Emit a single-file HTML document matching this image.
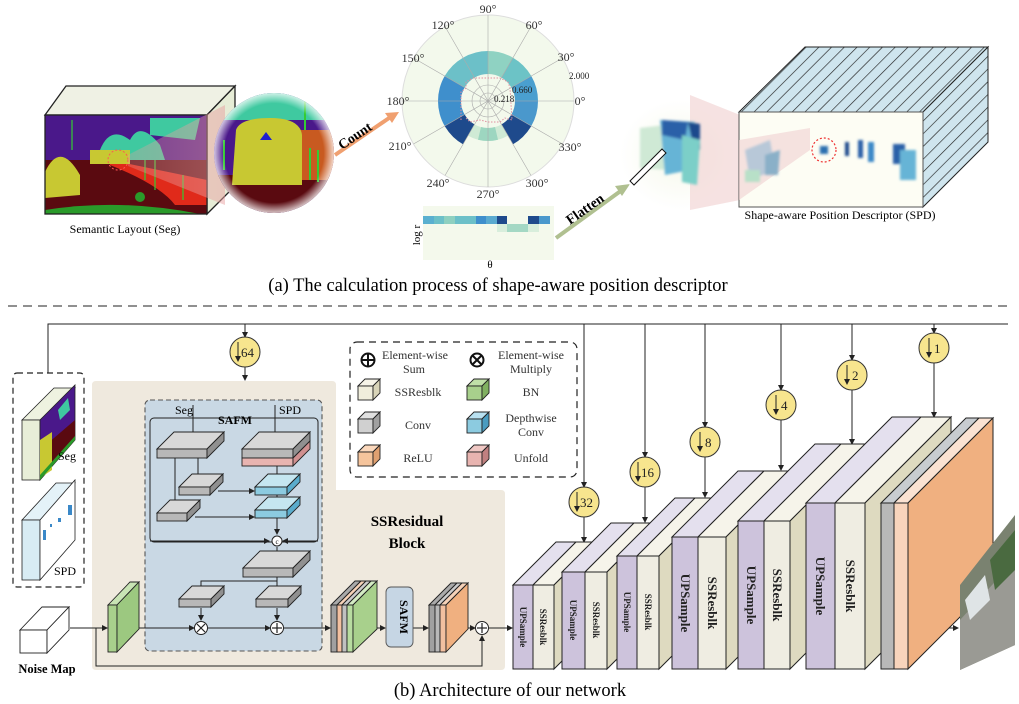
<!DOCTYPE html>
<html><head><meta charset="utf-8"><style>
html,body{margin:0;padding:0;background:#fff;}
svg{display:block;font-family:"Liberation Serif",serif;}
</style></head><body>
<svg width="1019" height="704" viewBox="0 0 1019 704" xmlns="http://www.w3.org/2000/svg">
<defs>
<marker id="ar" markerWidth="6" markerHeight="6" refX="5" refY="3" orient="auto"><path d="M0,0 L6,3 L0,6 z" fill="#222"/></marker>
<clipPath id="segc"><rect x="45" y="115" width="162" height="99"/></clipPath>
<clipPath id="magc"><circle cx="274" cy="153" r="60"/></clipPath>
<radialGradient id="magedge" cx="0.5" cy="0.5" r="0.5"><stop offset="0.8" stop-color="#fff" stop-opacity="0"/><stop offset="1" stop-color="#fff" stop-opacity="0.9"/></radialGradient>
<radialGradient id="blobbg" cx="0.5" cy="0.5" r="0.5"><stop offset="0" stop-color="#f6f8ea"/><stop offset="1" stop-color="#fff"/></radialGradient>
<linearGradient id="cone" x1="0" x2="1"><stop offset="0" stop-color="#e8a0a0" stop-opacity="0.3"/><stop offset="1" stop-color="#e8a0a0" stop-opacity="0.5"/></linearGradient>
<pattern id="hatch" width="9" height="9" patternUnits="userSpaceOnUse" patternTransform="rotate(45)"><rect width="9" height="9" fill="#cfe5ee"/><line x1="0" y1="0" x2="0" y2="9" stroke="#222" stroke-width="1.3"/></pattern>
<filter id="bl"><feGaussianBlur stdDeviation="1.2"/></filter>
</defs>

<!-- ===== (a) ===== -->
<!-- left cube -->
<polygon points="45,115 66,86 235,86 207,115" fill="#eff1e4" stroke="#222" stroke-width="1.3"/>
<polygon points="207,115 235,86 235,186 207,214" fill="#e6ecd6" stroke="#222" stroke-width="1.3"/>
<g clip-path="url(#segc)">
<rect x="45" y="115" width="162" height="99" fill="#4a188a"/>
<path d="M100,150 Q110,125 130,140 Q140,120 160,145 L165,160 L100,160z" fill="#3fc9a0"/>
<path d="M150,118 L200,118 L195,140 L150,135z" fill="#3fc9a0"/>
<rect x="45" y="160" width="162" height="54" fill="#5a0a10"/>
<path d="M110,160 L207,180 L207,205 L175,205 Q160,185 110,165z" fill="#e02a1a"/>
<path d="M45,172 Q60,140 80,175 L80,195 L45,198z" fill="#c8c832"/>
<rect x="90" y="150" width="40" height="14" fill="#c8c832"/>
<path d="M45,210 Q120,198 200,214 L45,214z" fill="#2a9a2a"/>
<circle cx="140" cy="197" r="5" fill="#2a9a2a"/>
<g stroke="#3c3" stroke-width="1.2"><line x1="72" y1="120" x2="72" y2="150"/><line x1="145" y1="160" x2="145" y2="180"/><line x1="155" y1="160" x2="155" y2="190"/><line x1="183" y1="175" x2="183" y2="200"/></g>
<circle cx="118" cy="160" r="10" fill="none" stroke="#f55" stroke-dasharray="2,2"/>
</g>
<rect x="45" y="115" width="162" height="99" fill="none" stroke="#222" stroke-width="1.3"/>
<polygon points="128,155 225,105 225,205 128,166" fill="url(#cone)"/>
<!-- magnifier -->
<g clip-path="url(#magc)">
<rect x="210" y="90" width="130" height="130" fill="#4a188a"/>
<rect x="210" y="90" width="130" height="30" fill="#3fc9a0"/>
<rect x="210" y="175" width="130" height="50" fill="#5a0a10"/>
<rect x="300" y="130" width="40" height="50" fill="#c85a20"/>
<path d="M236,130 Q240,118 270,118 Q300,118 302,135 L302,185 L232,185z" fill="#c8c832"/>
<polygon points="266,132 260,140 272,140" fill="#2020d0"/>
<g stroke="#3c3" stroke-width="2"><line x1="224" y1="140" x2="224" y2="170"/><line x1="310" y1="148" x2="310" y2="180"/><line x1="318" y1="150" x2="318" y2="182"/><line x1="305" y1="95" x2="305" y2="130"/></g>
<circle cx="274" cy="153" r="62" fill="url(#magedge)"/>
</g>
<text x="125" y="233" font-size="12" text-anchor="middle">Semantic Layout (Seg)</text>
<!-- Count arrow -->
<line x1="335" y1="155" x2="392" y2="116" stroke="#f0a070" stroke-width="4"/>
<polygon points="399,112 385,113 392,123" fill="#f0a070"/>
<text x="342" y="150" font-size="14" font-weight="bold" transform="rotate(-34 342 150)">Count</text>

<!-- polar chart -->
<circle cx="488" cy="101" r="86" fill="#f3f9ec" stroke="#ddd"/>
<path d="M538,101 A50,50 0 0 0 531.3,76 L511.4,87.5 A27,27 0 0 1 515,101Z" fill="#4a9fcf"/>
<path d="M531.3,76 A50,50 0 0 0 513,57.7 L501.5,77.6 A27,27 0 0 1 511.4,87.5Z" fill="#6cc3c6"/>
<path d="M513,57.7 A50,50 0 0 0 488,51 L488,74 A27,27 0 0 1 501.5,77.6Z" fill="#8fd2c2"/>
<path d="M488,51 A50,50 0 0 0 463,57.7 L474.5,77.6 A27,27 0 0 1 488,74Z" fill="#6cc0c8"/>
<path d="M463,57.7 A50,50 0 0 0 444.7,76 L464.6,87.5 A27,27 0 0 1 474.5,77.6Z" fill="#6cc0c8"/>
<path d="M444.7,76 A50,50 0 0 0 444.7,126 L464.6,114.5 A27,27 0 0 1 464.6,87.5Z" fill="#3f8fcc"/>
<path d="M444.7,126 A50,50 0 0 0 463,144.3 L474.5,124.4 A27,27 0 0 1 464.6,114.5Z" fill="#1e4a8c"/>
<path d="M468,135.6 A40,40 0 0 0 508,135.6 L501.5,124.4 A27,27 0 0 1 474.5,124.4Z" fill="#cfead5"/>
<path d="M478,139.7 A40,40 0 0 0 498,139.7 L495,127 A27,27 0 0 1 481,127Z" fill="#9dd6c0"/>
<path d="M513,144.3 A50,50 0 0 0 531.3,126 L511.4,114.5 A27,27 0 0 1 501.5,124.4Z" fill="#1e4a8c"/>
<path d="M531.3,126 A50,50 0 0 0 538,101 L515,101 A27,27 0 0 1 511.4,114.5Z" fill="#4a98cc"/>
<g stroke="#aaa" stroke-width="0.6" fill="none">
<line x1="402" y1="101" x2="574" y2="101"/><line x1="488" y1="15" x2="488" y2="187"/>
<line x1="413.5" y1="58" x2="562.5" y2="144"/><line x1="413.5" y1="144" x2="562.5" y2="58"/>
<line x1="445" y1="26.5" x2="531" y2="175.5"/><line x1="445" y1="175.5" x2="531" y2="26.5"/>
<circle cx="488" cy="101" r="8"/><circle cx="488" cy="101" r="16"/>
</g>
<polyline points="461,120 461,92 466,88 466,82 473,78 500,78 508,82 510,88 512,120 505,118 500,122 488,122 480,120 470,122 466,118" fill="none" stroke="#e090a0" stroke-width="1" stroke-dasharray="1.5,1.5"/>
<g font-size="12" text-anchor="middle" fill="#333">
<text x="488" y="13">90°</text><text x="443" y="29">120°</text><text x="534" y="29">60°</text>
<text x="413" y="62">150°</text><text x="566" y="61">30°</text>
<text x="398" y="105">180°</text><text x="580" y="105">0°</text>
<text x="400" y="150">210°</text><text x="570" y="151">330°</text>
<text x="438" y="187">240°</text><text x="537" y="187">300°</text><text x="488" y="198">270°</text>
</g>
<g font-size="9" fill="#222"><text x="569" y="79">2.000</text><text x="512" y="93">0.660</text><text x="494" y="102">0.218</text></g>

<!-- heatmap -->
<rect x="423" y="206" width="131" height="54" fill="#f4f9ec"/>
<g>
<rect x="423" y="216" width="11" height="8" fill="#5ab0d0"/><rect x="434" y="216" width="10" height="8" fill="#6cc0c8"/>
<rect x="444" y="216" width="11" height="8" fill="#8ed0c0"/><rect x="455" y="216" width="21" height="8" fill="#6cc0c8"/>
<rect x="476" y="216" width="10" height="8" fill="#3f8fcc"/><rect x="486" y="216" width="11" height="8" fill="#5aaad0"/>
<rect x="497" y="216" width="10" height="8" fill="#1e4a8c"/><rect x="528" y="216" width="11" height="8" fill="#1e4a8c"/>
<rect x="539" y="216" width="11" height="8" fill="#4a98cc"/>
<rect x="497" y="224" width="10" height="8" fill="#d8eedc"/><rect x="507" y="224" width="21" height="8" fill="#a4d8c4"/><rect x="528" y="224" width="11" height="8" fill="#d8eedc"/>
</g>
<text x="420" y="235" font-size="11" transform="rotate(-90 420 235)" text-anchor="middle">log r</text>
<text x="490" y="268" font-size="11" text-anchor="middle">θ</text>

<!-- flatten arrow -->
<line x1="556" y1="238" x2="622" y2="190" stroke="#b0c090" stroke-width="4"/>
<polygon points="630,184 615,186 622,196" fill="#b0c090"/>
<text x="570" y="225" font-size="14" font-weight="bold" transform="rotate(-35 570 225)">Flatten</text>
<!-- blob -->
<ellipse cx="680" cy="155" rx="60" ry="55" fill="url(#blobbg)"/>
<polygon points="690,95 740,115 740,200 690,210" fill="#f2d6d6" opacity="0.7"/>
<g filter="url(#bl)">
<path d="M640,128 L665,125 L668,170 L640,168z" fill="#cfe9d5"/>
<path d="M660,120 L695,122 L690,170 L665,175z" fill="#66b4d6"/>
<path d="M662,120 L688,122 L685,140 L662,135z" fill="#2a60a8"/>
<path d="M688,122 L700,124 L700,150 L692,140z" fill="#1e4a8c"/>
<path d="M682,135 L700,140 L697,185 L682,182z" fill="#7ccfc8"/>
</g>
<polygon points="630,181 662,149 666,153 634,185" fill="#fff" stroke="#111" stroke-width="1"/>
<!-- SPD block -->
<polygon points="739,112 805,47 988,47 923,112" fill="url(#hatch)" stroke="#222" stroke-width="1"/>
<polygon points="923,112 988,47 988,142 923,207" fill="url(#hatch)" stroke="#222" stroke-width="1"/>
<rect x="739" y="112" width="184" height="95" fill="#fdfdf4" stroke="#555" stroke-width="1"/>
<polygon points="739,140 810,128 810,150 739,200" fill="#f0d0d0" opacity="0.6"/>
<g filter="url(#bl)">
<path d="M745,150 L770,140 L775,170 L750,180z" fill="#b8c8d8"/>
<path d="M765,155 L780,150 L778,175 L765,175z" fill="#8ab0c8"/>
<rect x="745" y="170" width="15" height="12" fill="#b8e0c8"/>
<rect x="820" y="146" width="8" height="8" fill="#2a70b0"/>
<rect x="845" y="142" width="4" height="14" fill="#1e4a8c"/><rect x="858" y="140" width="5" height="18" fill="#2a60a8"/>
<rect x="868" y="142" width="6" height="20" fill="#3a88c8"/>
<rect x="893" y="144" width="12" height="20" fill="#2a60a8"/><rect x="900" y="150" width="16" height="30" fill="#66b4d6"/>
</g>
<circle cx="824" cy="150" r="12" fill="none" stroke="#e33" stroke-width="1.2" stroke-dasharray="2,2"/>
<text x="840" y="219" font-size="12" text-anchor="middle">Shape-aware Position Descriptor (SPD)</text>

<text x="498" y="291" font-size="18.5" text-anchor="middle">(a) The calculation process of shape-aware position descriptor</text>
<line x1="8" y1="306" x2="1012" y2="306" stroke="#222" stroke-width="1" stroke-dasharray="9,6"/>

<!-- ===== (b) ===== -->
<polyline points="48,373 48,324 1008,324" fill="none" stroke="#222" stroke-width="1"/>
<!-- left dashed box -->
<rect x="13" y="373" width="71" height="214" rx="4" fill="#fff" stroke="#222" stroke-dasharray="6,4" stroke-width="1.2"/>
<polygon points="22,420 54,388 75,388 40,420" fill="#eef2e0" stroke="#222" stroke-width="0.8"/>
<rect x="22" y="420" width="18" height="60" fill="#e8eed8" stroke="#222" stroke-width="0.8"/>
<polygon points="40,420 75,385 75,440 40,480" fill="#4a188a" stroke="#222" stroke-width="0.8"/>
<polygon points="40,450 75,420 75,440 40,480" fill="#5a0a10"/>
<polygon points="40,440 52,432 52,470 40,478" fill="#c8c832"/>
<polygon points="58,410 68,398 70,410 60,420" fill="#3fc9a0"/>
<polygon points="40,475 75,436 75,440 40,480" fill="#2a9a2a"/>
<text x="58" y="460" font-size="12">Seg</text>
<polygon points="22,520 56,483 75,483 40,520" fill="#e4f2f8" stroke="#222" stroke-width="0.8"/>
<rect x="22" y="520" width="18" height="60" fill="#d8ecf4" stroke="#222" stroke-width="0.8"/>
<polygon points="40,520 75,480 75,540 40,580" fill="#fff" stroke="#222" stroke-width="0.8"/>
<g fill="#3a88c8"><rect x="43" y="530" width="3" height="10"/><rect x="50" y="524" width="2" height="3"/><rect x="58" y="518" width="3" height="4"/><rect x="68" y="505" width="4" height="10"/></g>
<text x="54" y="575" font-size="12">SPD</text>

<!-- beige block -->
<path d="M96,381 L332,381 Q336,381 336,385 L336,490 L501,490 Q505,490 505,494 L505,666 Q505,670 501,670 L96,670 Q92,670 92,666 L92,385 Q92,381 96,381Z" fill="#efe9de"/>
<!-- blue dashed -->
<rect x="145" y="400" width="177" height="251" rx="5" fill="#c9d8e4" stroke="#555" stroke-dasharray="5,3" stroke-width="1.1"/>
<rect x="150" y="418" width="168" height="124" rx="4" fill="none" stroke="#222" stroke-width="1"/>
<text x="235" y="424" font-size="12" font-weight="bold" text-anchor="middle">SAFM</text>
<text x="184" y="414" font-size="12" text-anchor="middle">Seg</text>
<text x="290" y="414" font-size="12" text-anchor="middle">SPD</text>
<g stroke="#222" stroke-width="1" fill="none" marker-end="url(#ar)">
<line x1="193" y1="405" x2="193" y2="444"/>
<line x1="275" y1="405" x2="275" y2="444"/>
<line x1="198" y1="458" x2="198" y2="483"/>
<polyline points="175,458 175,509"/>
<line x1="218" y1="491" x2="254" y2="491"/>
<line x1="195" y1="517" x2="254" y2="517"/>
<line x1="277" y1="466" x2="277" y2="482"/>
<line x1="277" y1="495" x2="277" y2="505"/>
<line x1="277" y1="518" x2="277" y2="534"/>
<polyline points="150,541 269,541"/>
<polyline points="318,541 283,541"/>
<line x1="277" y1="547" x2="277" y2="563"/>
<line x1="277" y1="577" x2="277" y2="595"/>
<polyline points="277,581 201,581 201,595"/>
<line x1="201" y1="608" x2="201" y2="620"/>
<line x1="277" y1="608" x2="277" y2="620"/>
<line x1="117" y1="628" x2="194" y2="628"/>
<line x1="208" y1="628" x2="270" y2="628"/>
<line x1="283" y1="628" x2="330" y2="628"/>
<line x1="70" y1="628" x2="107" y2="628"/>
<line x1="360" y1="628" x2="385" y2="628"/>
<line x1="413" y1="628" x2="428" y2="628"/>
<line x1="455" y1="628" x2="475" y2="628"/>
<polyline points="96,628 96,666 482,666 482,636"/>
<line x1="489" y1="628" x2="512" y2="628"/>
<line x1="245" y1="367" x2="245" y2="380"/>
<line x1="932" y1="628" x2="958" y2="628"/>
</g>
<!-- slabs -->
<g stroke="#222" stroke-width="0.9">
<polygon points="157,449 174,432 224,432 207,449" fill="#d8d8d8"/><rect x="157" y="449" width="50" height="9" fill="#b8b8b8"/><polygon points="207,449 224,432 224,441 207,458" fill="#909090"/>
<polygon points="242,449 259,432 310,432 293,449" fill="#d8d8d8"/><rect x="242" y="449" width="51" height="9" fill="#b8b8b8"/><rect x="242" y="458" width="51" height="8" fill="#e8b4b0"/><polygon points="293,449 310,432 310,441 293,458" fill="#909090"/><polygon points="293,458 310,441 310,449 293,466" fill="#d09090"/>
<polygon points="179,487 192,474 223,474 210,487" fill="#d8d8d8"/><rect x="179" y="487" width="31" height="8" fill="#b8b8b8"/><polygon points="210,487 223,474 223,482 210,495" fill="#909090"/>
<polygon points="157,513 170,500 200,500 187,513" fill="#d8d8d8"/><rect x="157" y="513" width="30" height="8" fill="#b8b8b8"/><polygon points="187,513 200,500 200,508 187,521" fill="#909090"/>
<polygon points="255,487 268,474 300,474 287,487" fill="#c5e6f0"/><rect x="255" y="487" width="32" height="8" fill="#8ccbe0"/><polygon points="287,487 300,474 300,482 287,495" fill="#5aaccc"/>
<polygon points="255,510 268,497 300,497 287,510" fill="#c5e6f0"/><rect x="255" y="510" width="32" height="8" fill="#8ccbe0"/><polygon points="287,510 300,497 300,505 287,518" fill="#5aaccc"/>
<polygon points="243,568 260,551 310,551 293,568" fill="#d8d8d8"/><rect x="243" y="568" width="50" height="9" fill="#b8b8b8"/><polygon points="293,568 310,551 310,560 293,577" fill="#909090"/>
<polygon points="179,599 192,586 224,586 211,599" fill="#d8d8d8"/><rect x="179" y="599" width="32" height="8" fill="#b8b8b8"/><polygon points="211,599 224,586 224,594 211,607" fill="#909090"/>
<polygon points="256,599 269,586 301,586 288,599" fill="#d8d8d8"/><rect x="256" y="599" width="32" height="8" fill="#b8b8b8"/><polygon points="288,599 301,586 301,594 288,607" fill="#909090"/>
</g>
<g stroke="#222" stroke-width="1" fill="#fff">
<circle cx="277" cy="541" r="5"/><circle cx="201" cy="628" r="6.5"/><circle cx="277" cy="628" r="6.5"/><circle cx="482" cy="628" r="6.5"/>
</g>
<text x="277" y="544" font-size="7" text-anchor="middle">c</text>
<g stroke="#222" stroke-width="1.2"><line x1="197" y1="624" x2="205" y2="632"/><line x1="205" y1="624" x2="197" y2="632"/>
<line x1="272" y1="628" x2="282" y2="628"/><line x1="277" y1="623" x2="277" y2="633"/>
<line x1="477" y1="628" x2="487" y2="628"/><line x1="482" y1="623" x2="482" y2="633"/></g>
<!-- green block -->
<g stroke="#222" stroke-width="0.9">
<polygon points="108,605 130,582 139,582 117,605" fill="#c8e4b4"/>
<rect x="108" y="605" width="9" height="47" fill="#a8d08c"/>
<polygon points="117,605 139,582 139,629 117,652" fill="#9cc880"/>
<!-- multi block -->
<polygon points="331,605 355,581 361,581 337,605" fill="#aaa"/><rect x="331" y="605" width="6" height="47" fill="#a0a0a0"/>
<polygon points="337,605 361,581 366,581 342,605" fill="#f6d2b8"/><rect x="337" y="605" width="5" height="47" fill="#f2c0a0"/>
<polygon points="342,605 366,581 371,581 347,605" fill="#ccc"/><rect x="342" y="605" width="5" height="47" fill="#c0c0c0"/>
<polygon points="347,605 371,581 377,581 353,605" fill="#d4ecc4"/><rect x="347" y="605" width="6" height="47" fill="#b8dca0"/>
<polygon points="353,605 377,581 377,629 353,652" fill="#a8d08c"/>
<rect x="386" y="587" width="27" height="60" rx="5" fill="#c6d6e4" stroke="#555"/>
<polygon points="429,605 451,583 457,583 435,605" fill="#aaa"/><rect x="429" y="605" width="6" height="47" fill="#a0a0a0"/>
<polygon points="435,605 457,583 462,583 440,605" fill="#ccc"/><rect x="435" y="605" width="5" height="47" fill="#b8b8b8"/>
<polygon points="440,605 462,583 468,583 446,605" fill="#f6d2b8"/><rect x="440" y="605" width="6" height="47" fill="#f2c0a0"/>
<polygon points="446,605 468,583 468,629 446,652" fill="#f0b080"/>
</g>
<text x="400" y="617" font-size="12" font-weight="bold" text-anchor="middle" transform="rotate(90 400 617)">SAFM</text>
<text x="407" y="526" font-size="15" font-weight="bold" text-anchor="middle">SSResidual</text>
<text x="407" y="548" font-size="15" font-weight="bold" text-anchor="middle">Block</text>
<!-- noise map -->
<g stroke="#222" stroke-width="0.9" fill="#fff">
<polygon points="20,630 42,607 69,607 47,630"/><rect x="20" y="630" width="27" height="23"/><polygon points="47,630 69,607 69,630 47,653"/>
</g>
<text x="47" y="673" font-size="12.5" font-weight="bold" text-anchor="middle">Noise Map</text>

<!-- legend -->
<rect x="350" y="342" width="227" height="135" rx="7" fill="#fff" stroke="#222" stroke-dasharray="7,5" stroke-width="1.2"/>
<circle cx="368" cy="360" r="6.5" fill="#fff" stroke="#111" stroke-width="2"/><line x1="362" y1="360" x2="374" y2="360" stroke="#111" stroke-width="2"/><line x1="368" y1="354" x2="368" y2="366" stroke="#111" stroke-width="2"/>
<circle cx="477" cy="360" r="6.5" fill="#fff" stroke="#111" stroke-width="2"/><line x1="473" y1="356" x2="481" y2="364" stroke="#111" stroke-width="2"/><line x1="481" y1="356" x2="473" y2="364" stroke="#111" stroke-width="2"/>
<g font-size="12" text-anchor="middle" fill="#333">
<text x="415" y="359">Element-wise</text><text x="414" y="373">Sum</text>
<text x="531" y="359">Element-wise</text><text x="531" y="373">Multiply</text>
<text x="418" y="396">SSResblk</text><text x="531" y="396">BN</text>
<text x="418" y="429">Conv</text><text x="531" y="422">Depthwise</text><text x="531" y="436">Conv</text>
<text x="418" y="462">ReLU</text><text x="531" y="462">Unfold</text>
</g>
<g stroke="#222" stroke-width="0.9">
<polygon points="358,386 365,379 380,379 373,386" fill="#f6f4e8"/><rect x="358" y="386" width="15" height="14" fill="#f0eedc"/><polygon points="373,386 380,379 380,393 373,400" fill="#d8d4b8"/>
<polygon points="358,419 365,412 380,412 373,419" fill="#e0e0e0"/><rect x="358" y="419" width="15" height="14" fill="#d0d0d0"/><polygon points="373,419 380,412 380,426 373,433" fill="#a0a0a0"/>
<polygon points="358,452 365,445 380,445 373,452" fill="#fbd8bc"/><rect x="358" y="452" width="15" height="14" fill="#f5c49c"/><polygon points="373,452 380,445 380,459 373,466" fill="#e0a070"/>
<polygon points="467,386 474,379 489,379 482,386" fill="#c0e0a8"/><rect x="467" y="386" width="15" height="14" fill="#a8d08c"/><polygon points="482,386 489,379 489,393 482,400" fill="#80b060"/>
<polygon points="467,419 474,412 489,412 482,419" fill="#b8e0f0"/><rect x="467" y="419" width="15" height="14" fill="#8ccbe0"/><polygon points="482,419 489,412 489,426 482,433" fill="#4a9cc0"/>
<polygon points="467,452 474,445 489,445 482,452" fill="#f0c8c4"/><rect x="467" y="452" width="15" height="14" fill="#e8b4b0"/><polygon points="482,452 489,445 489,459 482,466" fill="#c08080"/>
</g>

<!-- vertical lines to decoder -->
<g stroke="#222" stroke-width="1" fill="none" marker-end="url(#ar)">
<line x1="245" y1="324" x2="245" y2="337"/>
<line x1="584" y1="324" x2="584" y2="487"/><line x1="584" y1="517" x2="584" y2="542"/>
<line x1="645" y1="324" x2="645" y2="457"/><line x1="645" y1="487" x2="645" y2="522"/>
<line x1="705" y1="324" x2="705" y2="427"/><line x1="705" y1="457" x2="705" y2="497"/>
<line x1="781" y1="324" x2="781" y2="390"/><line x1="781" y1="420" x2="781" y2="470"/>
<line x1="852" y1="324" x2="852" y2="360"/><line x1="852" y1="390" x2="852" y2="444"/>
<line x1="934" y1="324" x2="934" y2="333"/><line x1="934" y1="363" x2="934" y2="417"/>
</g>
<!-- down circles -->
<g font-size="13" fill="#222">
<g><circle cx="245" cy="352" r="15" fill="#f7e58e" stroke="#333"/><line x1="238" y1="342" x2="238" y2="361" stroke="#222" marker-end="url(#ar)"/><text x="241" y="357">64</text></g>
<g><circle cx="584" cy="502" r="15" fill="#f7e58e" stroke="#333"/><line x1="577" y1="492" x2="577" y2="511" stroke="#222" marker-end="url(#ar)"/><text x="580" y="507">32</text></g>
<g><circle cx="645" cy="472" r="15" fill="#f7e58e" stroke="#333"/><line x1="638" y1="462" x2="638" y2="481" stroke="#222" marker-end="url(#ar)"/><text x="641" y="477">16</text></g>
<g><circle cx="705" cy="442" r="15" fill="#f7e58e" stroke="#333"/><line x1="700" y1="432" x2="700" y2="451" stroke="#222" marker-end="url(#ar)"/><text x="705" y="447">8</text></g>
<g><circle cx="781" cy="405" r="15" fill="#f7e58e" stroke="#333"/><line x1="776" y1="395" x2="776" y2="414" stroke="#222" marker-end="url(#ar)"/><text x="781" y="410">4</text></g>
<g><circle cx="852" cy="375" r="15" fill="#f7e58e" stroke="#333"/><line x1="847" y1="365" x2="847" y2="384" stroke="#222" marker-end="url(#ar)"/><text x="852" y="380">2</text></g>
<g><circle cx="934" cy="348" r="15" fill="#f7e58e" stroke="#333"/><line x1="929" y1="338" x2="929" y2="357" stroke="#222" marker-end="url(#ar)"/><text x="934" y="353">1</text></g>
</g>

<!-- decoder blocks -->
<g stroke="#222" stroke-width="1">
<!-- B1 -->
<polygon points="513,585 556,542 576,542 533,585" fill="#e4e0ee"/><polygon points="533,585 576,542 597,542 554,585" fill="#f6f4ea"/>
<polygon points="554,585 597,542 597,626 554,669" fill="#dedac0"/>
<rect x="513" y="585" width="20" height="84" fill="#cdc3dc"/><rect x="533" y="585" width="21" height="84" fill="#efede2"/>
<!-- B2 -->
<polygon points="562,572 611,523 634,523 585,572" fill="#e4e0ee"/><polygon points="585,572 634,523 656,523 607,572" fill="#f6f4ea"/>
<polygon points="607,572 656,523 656,620 607,669" fill="#dedac0"/>
<rect x="562" y="572" width="23" height="97" fill="#cdc3dc"/><rect x="585" y="572" width="22" height="97" fill="#efede2"/>
<!-- B3 -->
<polygon points="617,556 675,498 695,498 637,556" fill="#e4e0ee"/><polygon points="637,556 695,498 717,498 659,556" fill="#f6f4ea"/>
<polygon points="659,556 717,498 717,611 659,669" fill="#dedac0"/>
<rect x="617" y="556" width="20" height="113" fill="#cdc3dc"/><rect x="637" y="556" width="22" height="113" fill="#efede2"/>
<!-- B4 -->
<polygon points="672,537 738,471 764,471 698,537" fill="#e4e0ee"/><polygon points="698,537 764,471 792,471 726,537" fill="#f6f4ea"/>
<polygon points="726,537 792,471 792,603 726,669" fill="#dedac0"/>
<rect x="672" y="537" width="26" height="132" fill="#cdc3dc"/><rect x="698" y="537" width="28" height="132" fill="#efede2"/>
<!-- B5 -->
<polygon points="738,521 815,444 841,444 764,521" fill="#e4e0ee"/><polygon points="764,521 841,444 867,444 790,521" fill="#f6f4ea"/>
<polygon points="790,521 867,444 867,592 790,669" fill="#dedac0"/>
<rect x="738" y="521" width="26" height="148" fill="#cdc3dc"/><rect x="764" y="521" width="26" height="148" fill="#efede2"/>
<!-- B6 -->
<polygon points="806,503 892,417 921,417 835,503" fill="#e4e0ee"/><polygon points="835,503 921,417 951,417 865,503" fill="#f6f4ea"/>
<polygon points="865,503 951,417 951,583 865,669" fill="#dedac0"/>
<rect x="806" y="503" width="29" height="166" fill="#cdc3dc"/><rect x="835" y="503" width="30" height="166" fill="#efede2"/>
<!-- final -->
<polygon points="881,503 966,418 979,418 894,503" fill="#c8ccd0"/><polygon points="894,503 979,418 993,418 908,503" fill="#fbe2d2"/>
<rect x="881" y="503" width="13" height="166" fill="#b8b8b8"/><rect x="894" y="503" width="14" height="166" fill="#f8d4bc"/>
<polygon points="908,503 993,418 993,584 908,669" fill="#f0b080"/>
</g>
<g font-weight="bold" fill="#222" text-anchor="middle">
<text x="523" y="627" font-size="9" transform="rotate(90 523 627)" dy="3">UPSample</text>
<text x="543" y="627" font-size="9" transform="rotate(90 543 627)" dy="3">SSResblk</text>
<text x="573" y="620" font-size="9" transform="rotate(90 573 620)" dy="3">UPSample</text>
<text x="596" y="620" font-size="9" transform="rotate(90 596 620)" dy="3">SSResblk</text>
<text x="627" y="612" font-size="9" transform="rotate(90 627 612)" dy="3">UPSample</text>
<text x="648" y="612" font-size="9" transform="rotate(90 648 612)" dy="3">SSResblk</text>
<text x="685" y="603" font-size="13" transform="rotate(90 685 603)" dy="4">UPSample</text>
<text x="712" y="603" font-size="13" transform="rotate(90 712 603)" dy="4">SSResblk</text>
<text x="751" y="595" font-size="13" transform="rotate(90 751 595)" dy="4">UPSample</text>
<text x="777" y="595" font-size="13" transform="rotate(90 777 595)" dy="4">SSResblk</text>
<text x="820" y="586" font-size="13" transform="rotate(90 820 586)" dy="4">UPSample</text>
<text x="850" y="586" font-size="13" transform="rotate(90 850 586)" dy="4">SSResblk</text>
</g>
<!-- output image -->
<polygon points="960,585 1015,515 1015,645 960,670" fill="#7a8270"/>
<polygon points="960,620 1015,560 1015,645 960,670" fill="#9a9a94"/>
<polygon points="965,600 985,575 990,600 970,620" fill="#dfe4e6"/>
<polygon points="990,560 1015,530 1015,570 995,590" fill="#4a6a40"/>

<text x="510" y="696" font-size="18.5" text-anchor="middle">(b) Architecture of our network</text>
</svg>
</body></html>
